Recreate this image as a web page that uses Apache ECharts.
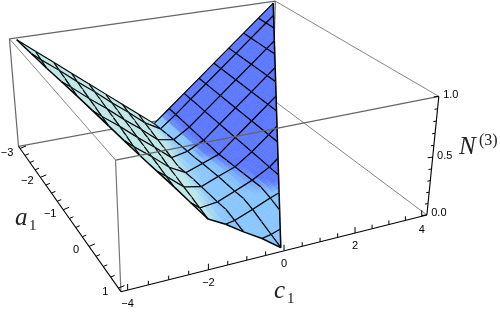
<!DOCTYPE html>
<html><head><meta charset="utf-8">
<style>html,body{margin:0;padding:0;background:#fff}#c{width:500px;height:314px}</style>
<script src="https://cdn.jsdelivr.net/npm/echarts@6/dist/echarts.min.js"></script>
</head><body><div id="c"></div>
<script>
const a1Values=[-3,-2.75,-2.5,-2.25,-2,-1.75,-1.5,-1.25,-1,-0.75,-0.5,-0.25,0,0.25,0.5,0.75,1];
const c1Values=[-4,-3.5,-3,-2.5,-2,-1.5,-1,-0.5,0,0.5,1,1.5,2,2.5,3,3.5,4];
const a1MeshLines=[-3,-2.75,-2.25,-1.75,-1.25,-0.75,-0.25,0.25,0.75];
const tail=[0.375,0.5,0.625,0.75,0.875,1];
const tailFront=[0.3,0.5,0.625,0.75,0.875,1];
// N3 surface height, one row per a1 value, one column per c1 value
const zA_300=[1,.875,.75,.625,.5,.375,.25,.125,0,.125,.25,...tail];
const zA_275=[.98,.85,.73,.6,.48,.35,.23,.1,.01,.125,.25,...tail];
const zA_250=[.96,.83,.71,.58,.46,.33,.21,.08,.02,.125,.25,...tail];
const zA_225=[.94,.81,.69,.56,.44,.31,.19,.06,.03,.125,.25,...tail];
const zA_200=[.92,.79,.67,.54,.42,.29,.17,.04,.04,.125,.25,...tail];
const zA_175=[.9,.77,.65,.52,.4,.27,.15,.02,.05,.125,.25,...tail];
const zA_150=[.875,.75,.625,.5,.375,.25,.125,0,.055,.125,.25,...tail];
const zA_125=[.85,.73,.6,.48,.35,.23,.1,.015,.07,.125,.25,...tail];
const zA_100=[.83,.71,.58,.46,.33,.21,.08,.025,.08,.135,.25,...tail];
const zA_075=[.81,.69,.56,.44,.31,.19,.06,.03,.09,.145,.25,...tail];
const zA_050=[.79,.67,.54,.42,.29,.17,.04,.035,.095,.155,.25,...tail];
const zA_025=[.77,.65,.52,.4,.27,.15,.02,.04,.1,.165,.25,...tail];
const zA000=[.75,.63,.5,.38,.25,.13,0,.05,.11,.175,.25,...tail];
const zA025=[0,0,0,0,0,0,0,.03,.09,.155,.21,...tailFront];
const zA050=[0,0,0,0,0,0,0,.01,.06,.125,.18,...tailFront];
const zA075=[0,0,0,0,0,0,0,0,.03,.085,.15,...tailFront];
const zA100=[0,0,0,0,0,0,0,0,0,.06,.12,...tailFront];
const zRows=[zA_300,zA_275,zA_250,zA_225,zA_200,zA_175,zA_150,zA_125,zA_100,zA_075,zA_050,zA_025,zA000,zA025,zA050,zA075,zA100];

const a1Ticks=[-3,-2.75,-2.5,-2.25,-2,-1.75,-1.5,-1.25,-1,-0.75,-0.5,-0.25,0,0.25,0.5,0.75,1];
const a1Labels=[-3,-2,-1,0,1];
const c1Ticks=[-4,-3.5,-3,-2.5,-2,-1.5,-1,-0.5,0,0.5,1,1.5,2,2.5,3,3.5,4];
const c1Labels=[-4,-2,0,2,4];
const n3Ticks=[0,0.1,0.2,0.3,0.4,0.5,0.6,0.7,0.8,0.9,1];
const n3Labels=[0,0.5,1];
const boxA=[-3.08,1.08], boxC=[-4.16,4.16], boxZ=[0,1];

// Camera calibration: box positions -> picture pixels
const anchors=[
 [boxA[1],boxC[0],boxZ[0],120.7,293],[boxA[1],boxC[1],boxZ[0],426.7,215.3],
 [boxA[0],boxC[0],boxZ[0],18.3,147.3],[boxA[0],boxC[1],boxZ[0],273.3,100.5],
 [boxA[1],boxC[0],boxZ[1],116.3,161],[boxA[1],boxC[1],boxZ[1],438.7,96],
 [boxA[0],boxC[0],boxZ[1],9.3,39.3],[boxA[0],boxC[1],boxZ[1],275,0.5],
 [boxA[1],-2,boxZ[0],209,270],[boxA[1],0,boxZ[0],283,252],[boxA[1],2,boxZ[0],355,232],
 [0,boxC[0],boxZ[0],91.7,247.7],[-1,boxC[0],boxZ[0],59.3,203.7],[-2,boxC[0],boxZ[0],41.7,178],
 [boxA[1],boxC[1],0.5,432.7,156.7]
];
function fitCamera(){
 const n=11,M=Array.from({length:n},()=>new Array(n+1).fill(0));
 const add=(r,y)=>{for(let i=0;i<n;i++){for(let j=0;j<n;j++)M[i][j]+=r[i]*r[j];M[i][n]+=r[i]*y;}};
 anchors.forEach(([x,y,z,u,v])=>{
  add([x,y,z,1,0,0,0,0,-u*x,-u*y,-u*z],u);
  add([0,0,0,0,x,y,z,1,-v*x,-v*y,-v*z],v);
 });
 for(let i=0;i<n;i++){
  let p=i;for(let k=i+1;k<n;k++)if(Math.abs(M[k][i])>Math.abs(M[p][i]))p=k;
  [M[i],M[p]]=[M[p],M[i]];
  for(let k=0;k<n;k++){if(k===i)continue;const f=M[k][i]/M[i][i];for(let j=i;j<=n;j++)M[k][j]-=f*M[i][j];}
 }
 return M.map((r,i)=>r[n]/r[i]);
}
const P=fitCamera();
function proj(a,c,z){
 const w=P[8]*a+P[9]*c+P[10]*z+1;
 return [(P[0]*a+P[1]*c+P[2]*z+P[3])/w,(P[4]*a+P[5]*c+P[6]*z+P[7])/w];
}
// shade ramp
const ramp=[[-1,[191,232,232]],[-0.35,[191,232,232]],[0.2,[140,200,255]],[0.52,[136,198,255]],[0.68,[91,120,255]],[1,[91,120,255]]];
function toneColor(t){
 for(let i=1;i<ramp.length;i++){
  if(t<=ramp[i][0]){
   const [t0,c0]=ramp[i-1],[t1,c1]=ramp[i],f=Math.max(0,(t-t0)/(t1-t0));
   return 'rgb('+c0.map((v,k)=>Math.round(v+(c1[k]-v)*f)).join(',')+')';
  }
 }
 return 'rgb(91,120,255)';
}
const tones=zRows.map(row=>row.map((_,j)=>{
 const j0=Math.max(0,j-1),j1=Math.min(row.length-1,j+1);
 return Math.max(-1,Math.min(1,(row[j1]-row[j0])/(c1Values[j1]-c1Values[j0])/0.25));
}));
function clip(poly){
 const half=(pts,f)=>{const out=[];pts.forEach((p,i)=>{const q=pts[(i+1)%pts.length],fp=f(p),fq=f(q);
  if(fp>=0)out.push(p);
  if(fp*fq<0){const s=fp/(fp-fq);out.push([p[0]+(q[0]-p[0])*s,p[1]+(q[1]-p[1])*s]);}});return out;};
 let r=half(poly,p=>1-p[0]-p[1]);
 if(r.length)r=half(r,p=>1-p[0]+p[1]);
 return r;
}
const cells=[];
for(let j=c1Values.length-2;j>=0;j--)for(let i=0;i<a1Values.length-1;i++)cells.push([i,j]);
const SUB=4;
const seg=(p,q,color,w)=>({type:'line',shape:{x1:p[0],y1:p[1],x2:q[0],y2:q[1]},style:{stroke:color,lineWidth:w}});
function renderCell(params,api){
 const i=api.value(0),j=api.value(1);
 const a0=a1Values[i],a1=a1Values[i+1],c0=c1Values[j],c1=c1Values[j+1];
 const bil=(g,a,c)=>{const u=(a-a0)/(a1-a0),v=(c-c0)/(c1-c0);
  return (1-u)*(1-v)*g[i][j]+u*(1-v)*g[i+1][j]+(1-u)*v*g[i][j+1]+u*v*g[i+1][j+1];};
 const toPx=p=>proj(p[0],p[1],bil(zRows,p[0],p[1]));
 const children=[];
 for(let m=0;m<SUB;m++)for(let n=0;n<SUB;n++){
  const ax=a0+(a1-a0)*m/SUB,ay=a0+(a1-a0)*(m+1)/SUB,cx=c0+(c1-c0)*n/SUB,cy=c0+(c1-c0)*(n+1)/SUB;
  const q=clip([[ax,cx],[ay,cx],[ay,cy],[ax,cy]]);
  if(q.length<3)continue;
  const col=toneColor(bil(tones,(ax+ay)/2,(cx+cy)/2));
  children.push({type:'polygon',shape:{points:q.map(toPx)},style:{fill:col,stroke:col,lineWidth:0.6}});
 }
 const out=clip([[a0,c0],[a1,c0],[a1,c1],[a0,c1]]);
 out.forEach((p,k)=>{
  const q=out[(k+1)%out.length];
  const sameA=Math.abs(p[0]-q[0])<1e-9;
  if(sameA&&!a1MeshLines.includes(p[0]))return;
  const sameC=Math.abs(p[1]-q[1])<1e-9;
  const boundary=!sameA&&!sameC;
  children.push(seg(toPx(p),toPx(q),'#000',boundary?1.5:1.1));
 });
 return {type:'group',children};
}
const corner=k=>proj(boxA[k[0]],boxC[k[1]],boxZ[k[2]]);
// box edges: from corner, to corner, colour, width
const backEdges=[[[0,0,0],[0,1,0],'#666',1.2],[[0,1,0],[1,1,0],'#777',0.9],[[0,0,0],[0,0,1],'#666',1.2],
 [[0,1,0],[0,1,1],'#666',1.2],[[0,0,1],[0,1,1],'#666',1.2],[[0,1,1],[1,1,1],'#777',0.9],[[0,0,1],[1,0,1],'#777',0.9]];
const frontEdges=[[[1,0,1],[1,1,1],'#666',1.2],[[1,0,0],[1,0,1],'#777',1.2]];
const axisEdges=[[[0,0,0],[1,0,0],'#000',1.1],[[1,0,0],[1,1,0],'#000',1.1],[[1,1,0],[1,1,1],'#000',1.1]];
function edgeSeries(list,z){
 return {type:'custom',coordinateSystem:'none',silent:true,z,data:list.map((_,k)=>[k]),clip:false,animation:false,
  renderItem:(p,api)=>{const e=list[api.value(0)];return seg(corner(e[0]),corner(e[1]),e[2],e[3]);}};
}
const tickData=[];
a1Ticks.forEach(v=>tickData.push([0,v]));
c1Ticks.forEach(v=>tickData.push([1,v]));
n3Ticks.forEach(v=>tickData.push([2,v]));
const tickStyle=[
 {at:v=>proj(v,boxC[0],boxZ[0]),major:a1Labels,d:[6,-2.5],m:[4,-1.7],off:[-13,4],fmt:v=>String(v)},
 {at:v=>proj(boxA[1],v,boxZ[0]),major:c1Labels,d:[0,-6],m:[0,-4],off:[0,13.5],fmt:v=>String(v)},
 {at:v=>proj(boxA[1],boxC[1],v),major:n3Labels,d:[-5,0.5],m:[-3,0.5],off:[12,-1.5],fmt:v=>v.toFixed(1)}
];
function renderTick(p,api){
 const s=tickStyle[api.value(0)],v=api.value(1),o=s.at(v),maj=s.major.includes(v),d=maj?s.d:s.m;
 const ch=[seg(o,[o[0]+d[0],o[1]+d[1]],'#000',1)];
 if(maj)ch.push({type:'text',x:o[0]+s.off[0],y:o[1]+s.off[1],style:{text:s.fmt(v).replace('-','\u2212'),fill:'#000',
   font:'11px "Liberation Sans"',textAlign:'center',textVerticalAlign:'middle'}});
 return {type:'group',children:ch};
}
const titleFont='italic 25px "Liberation Serif"', subFont='15px "Liberation Serif"';
const txt=(text,x,y,font)=>({type:'text',left:x,top:y,silent:true,style:{text,font,fill:'#222'}});
const chart=echarts.init(document.getElementById('c'),null,{renderer:'canvas'});
chart.setOption({animation:false,
 series:[
  edgeSeries(backEdges,1),
  {type:'custom',coordinateSystem:'none',silent:true,z:2,clip:false,animation:false,data:cells,renderItem:renderCell},
  edgeSeries(frontEdges,3),
  edgeSeries(axisEdges,4),
  {type:'custom',coordinateSystem:'none',silent:true,z:4,clip:false,animation:false,data:tickData,renderItem:renderTick}
 ],
 graphic:[
  txt('a',15,206,titleFont),txt('1',29,219,subFont),
  txt('c',274,279,titleFont),txt('1',287,292,subFont),
  txt('N',459,135,titleFont),txt('(3)',479,133,'16px "Liberation Serif"')
 ]
});
</script></body></html>
